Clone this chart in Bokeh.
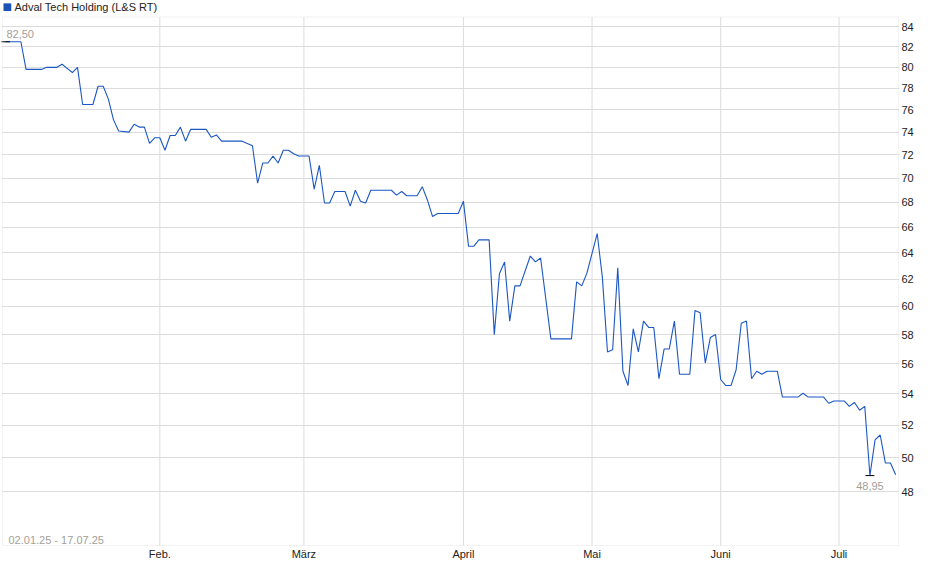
from bokeh.plotting import figure
from bokeh.models import (ColumnDataSource, Range1d, FixedTicker, BasicTickFormatter,
                          Label, BoxAnnotation)
from bokeh.core.properties import value
from bokeh.embed import file_html
from bokeh.resources import INLINE

title = "Adval Tech Holding (L&S RT)"
period = "02.01.25 - 17.07.25"

# session number (one step per quote on the chart) and price at the line's vertices
idx = [0, 3, 4, 7, 8, 10, 11, 12, 13, 14, 15, 17, 18, 19, 20, 21, 22, 24, 25, 26,
       27, 28, 29, 30, 31, 32, 33, 34, 35, 36, 39, 40, 41, 42, 46, 47, 48, 49, 50, 51,
       52, 53, 54, 55, 56, 57, 59, 60, 61, 62, 63, 64, 66, 67, 68, 69, 70, 71, 75, 76,
       77, 78, 80, 81, 82, 83, 84, 88, 89, 90, 91, 92, 94, 95, 96, 97, 98, 99, 100, 102,
       103, 104, 106, 110, 111, 112, 113, 115, 116, 117, 118, 119, 120, 121, 122, 123, 124, 125, 126, 127,
       128, 129, 130, 131, 133, 134, 135, 136, 137, 138, 139, 140, 141, 142, 143, 144, 145, 146, 147, 148,
       150, 151, 154, 155, 156, 159, 160, 161, 163, 164, 165, 166, 167, 168, 169, 170, 171, 172, 173]
price = [82.5, 82.5, 79.8, 79.8, 80.0, 80.0, 80.3, 79.9, 79.5, 80.0, 76.5, 76.5, 78.2, 78.2, 77.0, 75.1, 74.1, 74.0, 74.7, 74.45,
         74.45, 73.0, 73.5, 73.5, 72.4, 73.7, 73.7, 74.45, 73.2, 74.25, 74.25, 73.55, 73.75, 73.2, 73.2, 73.0, 72.8, 69.6, 71.3, 71.3,
         71.9, 71.3, 72.4, 72.4, 72.1, 71.9, 71.9, 69.1, 71.1, 67.95, 67.95, 68.9, 68.9, 67.7, 69.0, 68.1, 67.95, 69.0, 69.0, 68.6,
         68.9, 68.55, 68.55, 69.3, 68.2, 66.85, 67.1, 67.1, 68.1, 64.5, 64.5, 65.0, 65.0, 58.0, 62.4, 63.3, 58.95, 61.5, 61.5, 63.75,
         63.3, 63.6, 57.7, 57.7, 61.8, 61.5, 62.45, 65.5, 62.15, 56.8, 56.95, 62.85, 55.5, 54.55, 58.4, 56.8, 58.95, 58.5, 58.5, 55.0,
         57.0, 57.0, 58.95, 55.3, 55.3, 59.7, 59.55, 56.05, 57.8, 58.0, 54.95, 54.55, 54.55, 55.6, 58.8, 58.95, 55.0, 55.5, 55.3, 55.5,
         55.5, 53.8, 53.8, 54.05, 53.8, 53.8, 53.4, 53.55, 53.55, 53.2, 53.45, 52.95, 53.2, 48.95, 51.1, 51.4, 49.7, 49.7, 49.0]

month_pos = [30, 58, 89, 114, 139, 162]
month_labels = ["Feb.", "März", "April", "Mai", "Juni", "Juli"]
y_ticks = [48, 50, 52, 54, 56, 58, 60, 62, 64, 66, 68, 70, 72, 74, 76, 78, 80, 82, 84]

# visible chart box (the figure frame also holds the caption strip above it)
X_LO, X_HI = -0.58, 173.56
Y_LO, Y_HI = 45, 85

FONT = "Liberation Sans"
GRAY = "#a3a09a"
GRID = "#dcdcdc"

p = figure(width=940, height=579, output_backend="svg", toolbar_location=None, title=None,
           x_range=Range1d(X_LO - 0.19, X_HI + 0.19), y_range=Range1d(44.946, 86.7),
           y_axis_type="log", y_axis_location="right",
           min_border_left=1, min_border_right=41, min_border_top=0, min_border_bottom=33)
p.background_fill_color = "white"
p.border_fill_color = "white"
p.outline_line_color = None

p.xaxis.ticker = FixedTicker(ticks=month_pos)
p.xaxis.major_label_overrides = dict(zip(month_pos, month_labels))
p.xaxis.major_label_standoff = 1
p.yaxis.ticker = FixedTicker(ticks=y_ticks)
p.yaxis.formatter = BasicTickFormatter()
p.yaxis.major_label_standoff = 2
p.ygrid.ticker = p.yaxis.ticker
p.ygrid.grid_line_color = GRID
p.xgrid.visible = False
for ax in (p.xaxis, p.yaxis):
    ax.axis_line_color = None
    ax.major_tick_line_color = None
    ax.minor_tick_line_color = None
    ax.major_tick_out = 0
    ax.major_tick_in = 0
    ax.minor_tick_out = 0
    ax.major_label_text_font = FONT
    ax.major_label_text_font_size = "11px"
    ax.major_label_text_color = "#222222"

# month grid lines, only inside the chart box
p.segment(x0=month_pos, x1=month_pos, y0=[Y_LO] * len(month_pos), y1=[Y_HI] * len(month_pos),
          line_color=GRID, line_width=1)
p.add_layout(BoxAnnotation(left=X_LO, right=X_HI, bottom=Y_LO, top=Y_HI,
                           fill_color=None, line_color="#d4d4d4", line_width=1))

src = ColumnDataSource(data={'idx': idx, 'price': price})
p.line(x='idx', y='price', source=src, line_color="#1b57c4", line_width=1.1)

# high / low markers
imax = price.index(max(price))
imin = price.index(min(price))
p.scatter([idx[imax], idx[imin]], [price[imax], price[imin]], marker="dash", size=9,
          line_color="black", line_width=1)
fmt = lambda v: ("%.2f" % v).replace(".", ",")
p.text(x=[idx[imax]], y=[price[imax]], text=[fmt(price[imax])], text_align="left",
       text_baseline="middle", x_offset=1, y_offset=-8, text_font=value(FONT),
       text_font_size="11px", text_color=GRAY)
p.text(x=[idx[imin]], y=[price[imin]], text=[fmt(price[imin])], text_align="center",
       text_baseline="middle", y_offset=10, text_font=value(FONT),
       text_font_size="11px", text_color=GRAY)

p.add_layout(Label(x=7, y=1, x_units="screen", y_units="screen", text=period,
                   text_baseline="bottom", text_font=FONT, text_font_size="11px",
                   text_color=GRAY))

# series key in the caption strip above the box
p.add_layout(Label(x=1, y=540, x_units="screen", y_units="screen", text="\u25a0",
                   text_baseline="middle", text_font="DejaVu Sans", text_font_size="10px",
                   text_color="#1b50b4"))
p.add_layout(Label(x=13, y=540, x_units="screen", y_units="screen", text=title,
                   text_baseline="middle", text_font=FONT, text_font_size="11px",
                   text_color="#222222"))

open("out.html", "w").write(file_html(p, INLINE))
